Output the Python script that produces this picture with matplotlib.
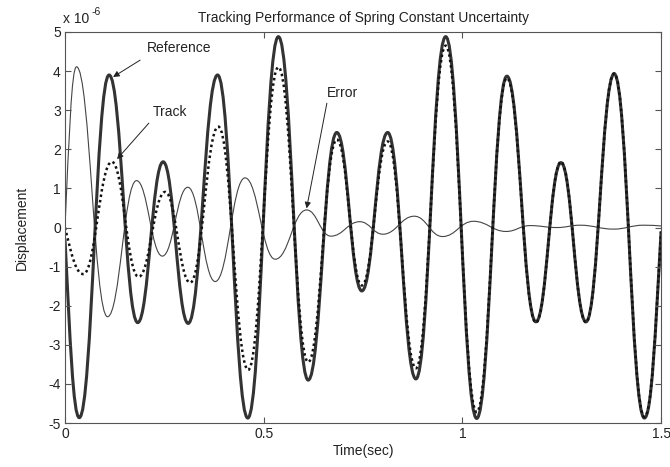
import numpy as np
import matplotlib
matplotlib.use("Agg")
import matplotlib.pyplot as plt
from matplotlib.path import Path
from matplotlib.patches import PathPatch

# values, in units of 1e-6 (turning points of each curve)
ref_t = [0.0, 0.036, 0.111, 0.183, 0.247, 0.310, 0.384, 0.460, 0.537, 0.612, 0.684,
         0.747, 0.812, 0.883, 0.958, 1.036, 1.112, 1.185, 1.248, 1.311, 1.382, 1.458, 1.5]
ref_v = [-0.3, -4.86, 3.90, -2.43, 1.68, -2.45, 3.90, -4.87, 4.88, -3.90, 2.43,
         -1.62, 2.43, -3.87, 4.88, -4.88, 3.87, -2.41, 1.66, -2.41, 3.93, -4.87, -0.1]

track_t = [0.0, 0.046, 0.118, 0.185, 0.252, 0.315, 0.386, 0.461, 0.537, 0.612, 0.684,
           0.747, 0.812, 0.883, 0.958, 1.036, 1.112, 1.185, 1.248, 1.311, 1.382, 1.458, 1.5]
track_v = [0.0, -1.19, 1.68, -1.26, 0.91, -1.41, 2.58, -3.64, 4.10, -3.44, 2.25,
           -1.48, 2.20, -3.60, 4.65, -4.72, 3.82, -2.43, 1.68, -2.42, 3.94, -4.84, -0.1]

err_t = [0.0, 0.029, 0.107, 0.180, 0.245, 0.309, 0.378, 0.453, 0.529, 0.608, 0.669,
         0.742, 0.800, 0.879, 0.950, 1.028, 1.110, 1.170, 1.238, 1.296, 1.380, 1.456, 1.5]
err_v = [0.0, 4.11, -2.28, 1.20, -0.73, 1.03, -1.38, 1.27, -0.81, 0.45, -0.22,
         0.15, -0.17, 0.29, -0.23, 0.16, -0.10, 0.05, 0.00, 0.06, -0.04, 0.06, 0.04]

x_ticks = [0, 0.5, 1, 1.5]
y_ticks = [-5, -4, -3, -2, -1, 0, 1, 2, 3, 4, 5]

plt.rcParams['font.family'] = ['Liberation Sans', 'DejaVu Sans']
TXT = '#222222'


def wave_path(t, v):
    """Bezier path through turning points, flat tangent at each peak/trough,
    sloped tangent at the two cut-off ends."""
    verts = [(t[0], v[0])]
    codes = [Path.MOVETO]
    n = len(t)
    a = 0.43
    for i in range(n - 1):
        dt = t[i + 1] - t[i]
        dv = v[i + 1] - v[i]
        if i == 0:
            c1 = (t[i] + 0.35 * dt, v[i] + 0.55 * dv)
        else:
            c1 = (t[i] + a * dt, v[i])
        if i == n - 2:
            c2 = (t[i + 1] - 0.35 * dt, v[i + 1] - 0.55 * dv)
        else:
            c2 = (t[i + 1] - a * dt, v[i + 1])
        verts += [c1, c2, (t[i + 1], v[i + 1])]
        codes += [Path.CURVE4] * 3
    return Path(verts, codes)


fig = plt.figure(figsize=(6.7, 4.67), dpi=100)
ax = fig.add_axes([0.097, 0.094, 0.8897, 0.8375])

ax.add_patch(PathPatch(wave_path(err_t, err_v), fill=False, edgecolor='#444444', lw=0.8))
ax.add_patch(PathPatch(wave_path(ref_t, ref_v), fill=False, edgecolor='#333333', lw=2.2))
ax.add_patch(PathPatch(wave_path(track_t, track_v), fill=False, edgecolor='#111111',
                       lw=1.8, linestyle=(0, (1, 1.2))))

ax.set_xlim(0, 1.5)
ax.set_ylim(-5, 5)
ax.set_xticks(x_ticks)
ax.set_xticklabels(['0', '0.5', '1', '1.5'])
ax.set_yticks(y_ticks)
ax.set_yticklabels([str(y) for y in y_ticks])
ax.tick_params(direction='in', length=4, width=0.8, top=True, right=True,
               labelsize=10, colors='#555555', labelcolor=TXT, pad=3)
for s in ax.spines.values():
    s.set_color('#555555')
    s.set_linewidth(0.8)

ax.set_title('Tracking Performance of Spring Constant Uncertainty', fontsize=10,
             color=TXT, pad=7)
ax.set_xlabel('Time(sec)', fontsize=10, color=TXT, labelpad=2)
ax.set_ylabel('Displacement', fontsize=10, color=TXT, labelpad=14)

# MATLAB style exponent label above the y axis
fig.text(0.094, 0.944, 'x 10', fontsize=10, color=TXT, ha='left', va='bottom')
fig.text(0.136, 0.964, '-6', fontsize=7.5, color=TXT, ha='left', va='bottom')

arrow = dict(arrowstyle='-|>', color='#222222', lw=0.7, mutation_scale=9,
             shrinkA=0, shrinkB=0)
ax.annotate('', xy=(0.121, 3.85), xytext=(0.189, 4.28), arrowprops=arrow)
ax.text(0.206, 4.59, 'Reference', fontsize=10, color=TXT, va='center')
ax.annotate('', xy=(0.131, 1.75), xytext=(0.211, 2.67), arrowprops=arrow)
ax.text(0.221, 2.95, 'Track', fontsize=10, color=TXT, va='center')
ax.annotate('', xy=(0.608, 0.49), xytext=(0.659, 3.18), arrowprops=arrow)
ax.text(0.659, 3.44, 'Error', fontsize=10, color=TXT, va='center')

fig.savefig('out.png', dpi=100)
